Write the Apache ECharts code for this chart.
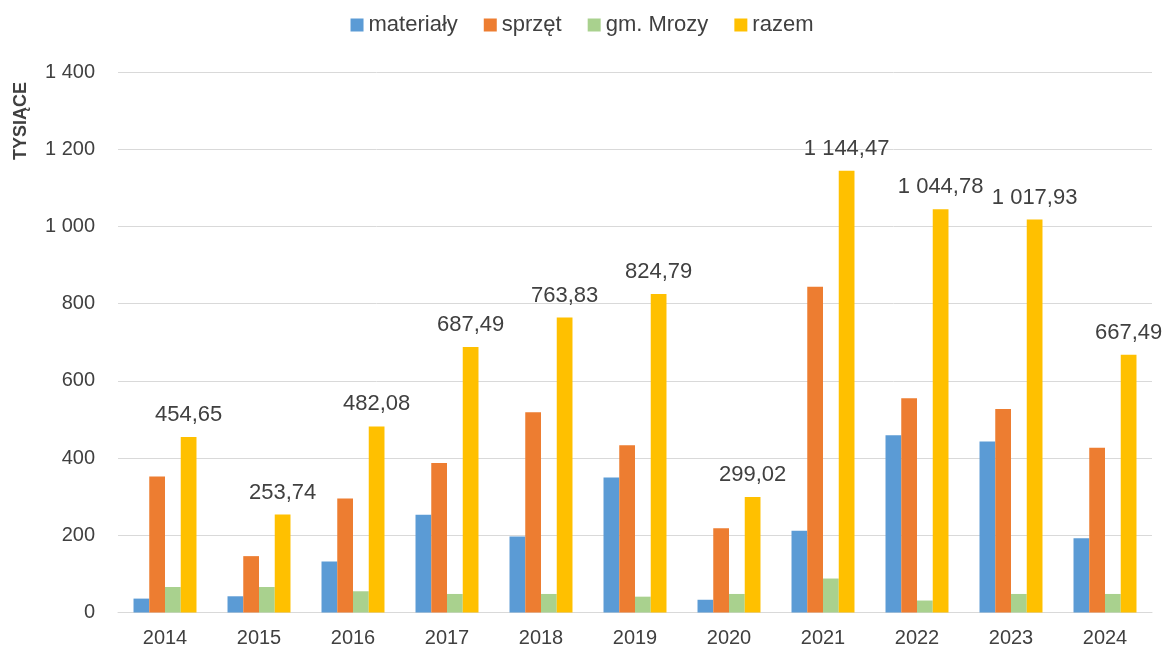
<!DOCTYPE html>
<html>
<head>
<meta charset="utf-8">
<script src="https://cdn.jsdelivr.net/npm/echarts@6/dist/echarts.min.js"></script>
<style>
html,body{margin:0;padding:0;background:#fff;}
#chart{width:1164px;height:654px;}
</style>
</head>
<body>
<div id="chart"></div>
<script>
var categories = ['2014','2015','2016','2017','2018','2019','2020','2021','2022','2023','2024'];
var materialy = [36, 42, 132, 253, 197, 350, 33, 212, 459, 443, 192];
var sprzet = [352, 146, 295, 387, 519, 433, 218, 844, 555, 527, 427];
var gmMrozy = [66, 66, 55, 48, 48, 41, 48, 88, 31, 48, 48];
var razem = [454.65, 253.74, 482.08, 687.49, 763.83, 824.79, 299.02, 1144.47, 1044.78, 1017.93, 667.49];
var seriesNames = ['materiały', 'sprzęt', 'gm. Mrozy', 'razem'];
var yTicks = {min: 0, max: 1400, interval: 200};
var axisTitle = 'TYSIĄCE';

function thousands(s){ return s.replace(/\B(?=(\d{3})+(?!\d))/g, ' '); }
function fmtInt(v){ return thousands(String(Math.round(v))); }
function fmtDec(v){
  var parts = v.toFixed(2).split('.');
  return thousands(parts[0]) + ',' + parts[1];
}

var FONT = 'Liberation Sans, Arial, sans-serif';
var chart = echarts.init(document.getElementById('chart'), null, {renderer:'canvas'});
var colors = ['#5B9BD5', '#ED7D31', '#A9D18E', '#FFC000'];

function barSeries(name, data, color, withLabel){
  var s = {
    name: name, type: 'bar', data: data,
    barGap: '0%', barCategoryGap: '33%',
    itemStyle: {color: color},
    emphasis: {disabled: true}
  };
  if (withLabel) {
    s.label = {show: true, position: 'top', distance: 11, color: '#404040',
      fontFamily: FONT, fontSize: 22,
      formatter: function(p){ return fmtDec(p.value); }};
  }
  return s;
}

chart.setOption({
  animation: false,
  color: colors,
  textStyle: {fontFamily: FONT},
  legend: {
    top: 9, left: 'center',
    itemWidth: 13, itemHeight: 13, itemGap: 26,
    icon: 'rect',
    textStyle: {fontFamily: FONT, fontSize: 22, color: '#404040'},
    data: seriesNames
  },
  grid: {left: 118, right: 12, top: 72, bottom: 41.5, containLabel: false},
  xAxis: {
    type: 'category', data: categories,
    axisLine: {lineStyle: {color: '#d9d9d9', width: 1}},
    axisTick: {show: false},
    axisLabel: {color: '#404040', fontFamily: FONT, fontSize: 20, margin: 16}
  },
  yAxis: {
    type: 'value', min: yTicks.min, max: yTicks.max, interval: yTicks.interval,
    axisLine: {show: false}, axisTick: {show: false},
    splitLine: {lineStyle: {color: '#d9d9d9', width: 1}},
    axisLabel: {color: '#404040', fontFamily: FONT, fontSize: 20, margin: 23,
      formatter: function(v){ return fmtInt(v); }}
  },
  graphic: [{
    type: 'text', x: 21, y: 121, rotation: Math.PI/2,
    style: {text: axisTitle, fill: '#404040', font: 'bold 18px ' + FONT,
      textAlign: 'center', textVerticalAlign: 'middle'}
  }],
  series: [
    barSeries(seriesNames[0], materialy, colors[0], false),
    barSeries(seriesNames[1], sprzet, colors[1], false),
    barSeries(seriesNames[2], gmMrozy, colors[2], false),
    barSeries(seriesNames[3], razem, colors[3], true)
  ]
});
</script>
</body>
</html>
